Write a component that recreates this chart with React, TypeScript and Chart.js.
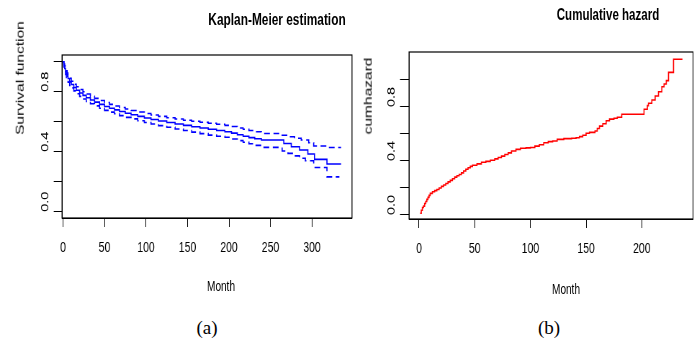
import React, { useEffect, useRef } from 'react';
import { Chart, registerables } from 'chart.js';

Chart.register(...registerables);

// ---------- data: (a) Kaplan-Meier estimation ----------
const kmTime = [0, 1, 2, 3, 4, 5, 6, 8, 10, 13, 16, 20, 24, 28, 33, 38, 44, 50, 56, 62, 68, 75, 82, 90, 98, 106, 115, 125, 135, 145, 155, 165, 175, 185, 195, 203, 210, 217, 224, 231, 239, 266, 275, 285, 295, 303, 318, 335];
const kmSurvival = [1.0, 0.975, 0.955, 0.935, 0.918, 0.902, 0.888, 0.866, 0.848, 0.828, 0.81, 0.792, 0.776, 0.76, 0.745, 0.731, 0.716, 0.702, 0.69, 0.679, 0.668, 0.657, 0.647, 0.636, 0.625, 0.615, 0.605, 0.595, 0.585, 0.576, 0.567, 0.558, 0.55, 0.542, 0.533, 0.524, 0.513, 0.503, 0.494, 0.486, 0.478, 0.455, 0.433, 0.411, 0.385, 0.349, 0.318, 0.318];

const kmUpperTime = [0, 1, 2, 3, 4, 5, 6, 8, 10, 13, 16, 20, 24, 28, 33, 38, 44, 50, 56, 62, 68, 75, 82, 90, 98, 106, 115, 125, 135, 145, 155, 165, 175, 185, 195, 203, 210, 217, 224, 231, 239, 264, 271, 279, 287, 296, 302, 318, 335];
const kmUpper = [1.0, 0.985, 0.97, 0.955, 0.94, 0.925, 0.912, 0.89, 0.87, 0.85, 0.833, 0.815, 0.8, 0.785, 0.77, 0.756, 0.742, 0.728, 0.716, 0.705, 0.695, 0.685, 0.675, 0.665, 0.655, 0.645, 0.636, 0.627, 0.618, 0.61, 0.603, 0.597, 0.59, 0.583, 0.576, 0.568, 0.558, 0.55, 0.542, 0.533, 0.522, 0.51, 0.5, 0.49, 0.478, 0.46, 0.438, 0.428, 0.428];

const kmLowerTime = [0, 1, 2, 3, 4, 5, 6, 8, 10, 13, 16, 20, 24, 28, 33, 38, 44, 50, 56, 62, 68, 75, 82, 90, 98, 106, 115, 125, 135, 145, 155, 165, 175, 185, 195, 203, 210, 217, 224, 231, 239, 264, 271, 279, 285, 292, 302, 318, 333];
const kmLower = [1.0, 0.965, 0.94, 0.915, 0.896, 0.879, 0.864, 0.842, 0.826, 0.806, 0.787, 0.769, 0.752, 0.735, 0.72, 0.706, 0.69, 0.676, 0.664, 0.653, 0.641, 0.629, 0.619, 0.607, 0.595, 0.585, 0.574, 0.563, 0.552, 0.542, 0.531, 0.521, 0.511, 0.503, 0.496, 0.485, 0.474, 0.463, 0.453, 0.442, 0.429, 0.405, 0.389, 0.372, 0.356, 0.34, 0.295, 0.232, 0.232];

const kmXTicks = [0, 50, 100, 150, 200, 250, 300];
const kmYTicks = [0, 0.2, 0.4, 0.6, 0.8, 1.0];

// ---------- data: (b) Cumulative hazard ----------
const chTime = [1, 2, 3, 4, 5, 6, 7, 8, 9, 10, 12, 14, 16, 18, 20, 22, 24, 26, 28, 30, 32, 34, 36, 38, 40, 42, 44, 46, 48, 52, 56, 60, 64, 68, 71, 74, 77, 80, 83, 87, 91, 96, 100, 104, 108, 112, 116, 120, 124, 130, 137, 141, 144, 147, 150, 153, 158, 160, 162, 165, 168, 171, 175, 178, 182, 202, 205, 206, 209, 212, 215, 218, 220, 222, 224, 228.5, 236.5];
const chHazard = [0.013, 0.035, 0.055, 0.065, 0.085, 0.1, 0.115, 0.13, 0.145, 0.16, 0.172, 0.18, 0.188, 0.2, 0.212, 0.222, 0.233, 0.245, 0.256, 0.268, 0.28, 0.29, 0.3, 0.312, 0.325, 0.338, 0.35, 0.36, 0.368, 0.378, 0.39, 0.397, 0.405, 0.415, 0.425, 0.436, 0.448, 0.46, 0.474, 0.486, 0.494, 0.497, 0.5, 0.51, 0.52, 0.535, 0.543, 0.548, 0.56, 0.565, 0.568, 0.572, 0.58, 0.59, 0.605, 0.612, 0.622, 0.64, 0.658, 0.675, 0.698, 0.71, 0.716, 0.724, 0.746, 0.783, 0.81, 0.827, 0.852, 0.881, 0.913, 0.95, 0.97, 0.995, 1.056, 1.153, 1.153];

const chXTicks = [0, 50, 100, 150, 200];
const chYTicks = [0, 0.2, 0.4, 0.6, 0.8, 1.0];

const yLabelled = [0, 0.4, 0.8];

// ---------- layout / style ----------
const K = 0.72; // horizontal squeeze of the original figure
const SANS = "'Liberation Sans', Arial, Helvetica, sans-serif";
const SERIF = "'Liberation Serif', 'Times New Roman', serif";
const TICK_FONT = { family: SANS, size: 14.5 };

const pts = (xs: number[], ys: number[]) => xs.map((x, i) => ({ x, y: ys[i] }));

const boxPlugin = {
  id: 'rbox',
  afterDraw(chart: any) {
    const { ctx, chartArea: a } = chart;
    ctx.save();
    ctx.strokeStyle = '#000';
    ctx.lineWidth = 1.2;
    ctx.strokeRect(a.left, a.top, a.right - a.left, a.bottom - a.top);
    ctx.restore();
  },
};

interface AxisSpec {
  xMin: number; xMax: number; yMin: number; yMax: number;
  xTicks: number[]; yTicks: number[];
  yAxisWidth: number; xAxisHeight: number; padRight: number; padTop: number;
  yTickLen: number; yTickPad: number; xTickLen: number; xTickPad: number;
}

function makeOptions(s: AxisSpec): any {
  return {
    responsive: false,
    animation: false,
    devicePixelRatio: 1,
    events: [],
    layout: { padding: { left: 0, right: s.padRight, top: s.padTop, bottom: 0 } },
    plugins: { legend: { display: false }, tooltip: { enabled: false }, title: { display: false } },
    elements: { point: { radius: 0 }, line: { tension: 0 } },
    scales: {
      x: {
        type: 'linear',
        bounds: 'data',
        min: s.xMin,
        max: s.xMax,
        afterBuildTicks: (sc: any) => { sc.ticks = s.xTicks.map((v) => ({ value: v })); },
        afterFit: (sc: any) => { sc.height = s.xAxisHeight; },
        grid: { display: true, drawOnChartArea: false, drawTicks: true, tickLength: s.xTickLen, color: '#000', lineWidth: 1 },
        border: { display: true, color: '#000', width: 1 },
        ticks: {
          autoSkip: false, minRotation: 0, maxRotation: 0, padding: s.xTickPad, color: '#000', font: TICK_FONT,
          callback: (v: number) => String(v),
        },
      },
      y: {
        type: 'linear',
        bounds: 'data',
        min: s.yMin,
        max: s.yMax,
        afterBuildTicks: (sc: any) => { sc.ticks = s.yTicks.map((v) => ({ value: v })); },
        afterFit: (sc: any) => { sc.width = s.yAxisWidth; },
        grid: { display: true, drawOnChartArea: false, drawTicks: true, tickLength: s.yTickLen, color: '#000', lineWidth: 1 },
        border: { display: true, color: '#000', width: 1 },
        ticks: {
          autoSkip: false, minRotation: 90, maxRotation: 90, crossAlign: 'center', labelOffset: -10,
          padding: s.yTickPad, color: '#000', font: TICK_FONT,
          callback: (v: number) => (yLabelled.some((l) => Math.abs(l - v) < 1e-9) ? v.toFixed(1) : ''),
        },
      },
    },
  };
}

const LEFT_W = 500;   // 360 px after squeeze
const RIGHT_W = 470;  // ~338 px after squeeze
const CANVAS_H = 300;

function kmConfig(): any {
  const line = { type: 'line', stepped: true, pointRadius: 0, fill: false, borderColor: '#0000ff', borderWidth: 1.6 };
  return {
    type: 'line',
    data: {
      datasets: [
        { ...line, label: 'upper', data: pts(kmUpperTime, kmUpper), borderDash: [8, 5] },
        { ...line, label: 'lower', data: pts(kmLowerTime, kmLower), borderDash: [8, 5] },
        { ...line, label: 'survival', data: pts(kmTime, kmSurvival) },
      ],
    },
    options: makeOptions({
      xMin: -1.2, xMax: 348.2, yMin: -0.042, yMax: 1.045,
      xTicks: kmXTicks, yTicks: kmYTicks,
      yAxisWidth: 62 / K, xAxisHeight: CANVAS_H - 218, padRight: LEFT_W - 352 / K, padTop: 55,
      yTickLen: 11.5, yTickPad: 2, xTickLen: 9, xTickPad: 12,
    }),
    plugins: [boxPlugin],
  };
}

function chConfig(): any {
  return {
    type: 'line',
    data: {
      datasets: [
        { type: 'line', label: 'cumhazard', data: pts(chTime, chHazard), stepped: true, pointRadius: 0, fill: false, borderColor: '#ff0000', borderWidth: 1.6 },
      ],
    },
    options: makeOptions({
      xMin: -9.0, xMax: 246, yMin: -0.03, yMax: 1.207,
      xTicks: chXTicks, yTicks: chYTicks,
      yAxisWidth: 49 / K, xAxisHeight: CANVAS_H - 219, padRight: RIGHT_W - 333 / K, padTop: 52,
      yTickLen: 12.5, yTickPad: 1.7, xTickLen: 9, xTickPad: 12.5,
    }),
    plugins: [boxPlugin],
  };
}

function Txt(props: { x: number; y: number; text: string; size: number; bold?: boolean; rotate?: boolean; squeeze?: number; family?: string }) {
  const sq = props.squeeze ?? K;
  const t = `translate(-50%, -50%) scaleX(${sq})${props.rotate ? ' rotate(-90deg)' : ''}`;
  return (
    <div
      style={{
        position: 'absolute', left: props.x, top: props.y, transform: t,
        fontFamily: props.family ?? SANS, fontSize: props.size, fontWeight: props.bold ? 'bold' : 'normal',
        lineHeight: 1, whiteSpace: 'nowrap', color: '#000',
      }}
    >
      {props.text}
    </div>
  );
}

export default function App() {
  const leftRef = useRef<HTMLCanvasElement>(null);
  const rightRef = useRef<HTMLCanvasElement>(null);

  useEffect(() => {
    const c1 = new Chart(leftRef.current as HTMLCanvasElement, kmConfig());
    const c2 = new Chart(rightRef.current as HTMLCanvasElement, chConfig());
    return () => { c1.destroy(); c2.destroy(); };
  }, []);

  const canvasStyle = (left: number, w: number): React.CSSProperties => ({
    position: 'absolute', left, top: 0, width: w, height: CANVAS_H,
    transform: `scaleX(${K})`, transformOrigin: '0 0', display: 'block',
  });

  return (
    <div style={{ position: 'absolute', left: 0, top: 0, width: 698, height: 339, background: '#fff', overflow: 'hidden' }}>
      <canvas ref={leftRef} width={LEFT_W} height={CANVAS_H} style={canvasStyle(0, LEFT_W)} />
      <canvas ref={rightRef} width={RIGHT_W} height={CANVAS_H} style={canvasStyle(360, RIGHT_W)} />

      <Txt x={277} y={18.5} text="Kaplan-Meier estimation" size={16.5} bold />
      <Txt x={608} y={15} text="Cumulative hazard" size={16} bold />

      <Txt x={19.5} y={77.5} text="Survival function" size={15.5} rotate />
      <Txt x={368} y={96} text="cumhazard" size={15.5} rotate />

      <Txt x={221} y={286} text="Month" size={14} />
      <Txt x={565.5} y={289} text="Month" size={14} />

      <Txt x={207} y={327} text="(a)" size={19} family={SERIF} squeeze={1} />
      <Txt x={549} y={327} text="(b)" size={19} family={SERIF} squeeze={1} />
    </div>
  );
}
